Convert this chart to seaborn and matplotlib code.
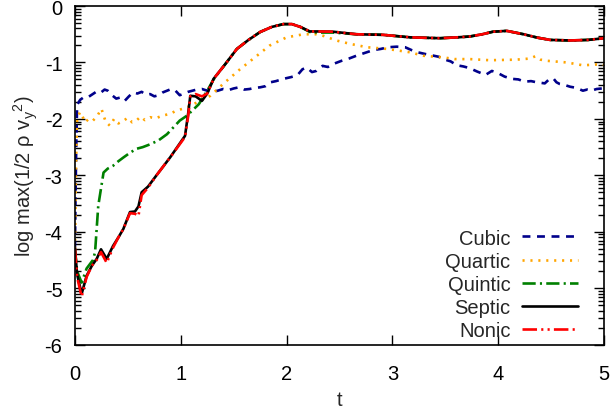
import numpy as np
import pandas as pd
import matplotlib
matplotlib.use("Agg")
import matplotlib.pyplot as plt
import seaborn as sns

# ---- data ----
t_cubic = [0, 0.005, 0.012, 0.02, 0.05, 0.08, 0.12, 0.16, 0.2, 0.24, 0.28, 0.31, 0.35, 0.39,
           0.43, 0.47, 0.51, 0.55, 0.59, 0.63, 0.67, 0.71, 0.75, 0.79, 0.83, 0.87, 0.91, 0.95,
           0.99, 1.03, 1.07, 1.11, 1.15, 1.2, 1.25, 1.3, 1.35, 1.4, 1.45, 1.5, 1.55, 1.6, 1.65,
           1.7, 1.75, 1.8, 1.85, 1.9, 1.97, 2.04, 2.1, 2.15, 2.19, 2.24, 2.28, 2.34, 2.39, 2.45,
           2.52, 2.59, 2.66, 2.74, 2.82, 2.89, 2.96, 3.04, 3.12, 3.18, 3.24, 3.31, 3.39, 3.44,
           3.48, 3.55, 3.61, 3.67, 3.73, 3.8, 3.88, 3.94, 4.0, 4.06, 4.13, 4.19, 4.25, 4.31,
           4.36, 4.4, 4.44, 4.48, 4.52, 4.55, 4.58, 4.63, 4.68, 4.74, 4.8, 4.84, 4.88, 4.93,
           4.98, 5.0]
y_cubic = [-4.3, -3.4, -2.5, -1.75, -1.66, -1.62, -1.62, -1.57, -1.52, -1.54, -1.48, -1.5, -1.58,
           -1.64, -1.62, -1.68, -1.6, -1.53, -1.55, -1.52, -1.57, -1.56, -1.6, -1.58, -1.53,
           -1.5, -1.47, -1.5, -1.58, -1.55, -1.52, -1.5, -1.48, -1.47, -1.5, -1.52, -1.5, -1.47,
           -1.49, -1.46, -1.44, -1.48, -1.47, -1.45, -1.44, -1.42, -1.35, -1.33, -1.29, -1.26,
           -1.23, -1.12, -1.09, -1.17, -1.15, -1.06, -1.08, -1.02, -0.97, -0.93, -0.88, -0.83,
           -0.78, -0.76, -0.73, -0.72, -0.73, -0.78, -0.82, -0.85, -0.88, -0.9, -0.94, -0.98,
           -1.05, -1.07, -1.1, -1.16, -1.22, -1.15, -1.19, -1.25, -1.29, -1.3, -1.34, -1.33,
           -1.35, -1.36, -1.37, -1.3, -1.28, -1.35, -1.38, -1.4, -1.43, -1.45, -1.5, -1.48,
           -1.5, -1.47, -1.46, -1.48]

t_quartic = [0, 0.005, 0.01, 0.02, 0.047, 0.07, 0.095, 0.13, 0.17, 0.21, 0.25, 0.29, 0.33,
             0.37, 0.41, 0.46, 0.5, 0.54, 0.58, 0.62, 0.66, 0.71, 0.76, 0.83, 0.9, 0.96, 1.02,
             1.09, 1.18, 1.28, 1.4, 1.56, 1.72, 1.84, 2.0, 2.16, 2.28, 2.35, 2.47, 2.6, 2.76,
             2.95, 3.17, 3.29, 3.48, 3.59, 3.73, 3.92, 4.17, 4.3, 4.35, 4.4, 4.46, 4.65, 4.8,
             4.98, 5.0]
y_quartic = [-4.3, -3.6, -2.8, -2.0, -1.88, -1.95, -2.06, -2.0, -2.03, -1.95, -1.82, -2.05,
             -2.12, -2.0, -2.08, -2.03, -1.98, -2.06, -2.03, -1.96, -2.02, -1.97, -1.99, -1.94,
             -1.91, -1.85, -1.82, -1.77, -1.68, -1.59, -1.38, -1.12, -0.88, -0.70, -0.555,
             -0.5, -0.5, -0.53, -0.61, -0.67, -0.73, -0.76, -0.82, -0.88, -0.91, -0.94, -0.94,
             -0.96, -0.95, -0.93, -0.89, -0.95, -0.97, -1.0, -1.05, -1.03, -1.04]

t_quintic = [0, 0.02, 0.063, 0.11, 0.17, 0.19, 0.22, 0.27, 0.31, 0.36, 0.41, 0.46, 0.52, 0.58,
             0.64, 0.71, 0.79, 0.87, 0.93, 0.99, 1.06, 1.17, 1.25, 1.31, 1.42, 1.53, 1.64, 1.75,
             1.86, 1.97, 2.05, 2.13, 2.22, 2.3, 2.44, 2.66, 2.91, 3.17, 3.45, 3.61, 3.73, 3.85,
             3.95, 4.08, 4.24, 4.37, 4.49, 4.68, 4.85, 5.0]
y_quintic = [-4.3, -4.7, -4.9, -4.65, -4.5, -4.36, -3.54, -2.95, -2.88, -2.83, -2.75, -2.68,
             -2.6, -2.53, -2.5, -2.45, -2.38, -2.27, -2.15, -2.03, -1.94, -1.74, -1.5, -1.3,
             -1.03, -0.76, -0.6, -0.46, -0.37, -0.32, -0.32, -0.37, -0.46, -0.47, -0.47, -0.5,
             -0.51, -0.555, -0.57, -0.555, -0.54, -0.5, -0.455, -0.44, -0.5, -0.56, -0.6,
             -0.61, -0.6, -0.57]

t_septic = [0, 0.02, 0.063, 0.11, 0.16, 0.205, 0.246, 0.30, 0.36, 0.41, 0.457, 0.52, 0.567,
            0.60, 0.63, 0.69, 0.77, 0.90, 1.04, 1.07, 1.09, 1.14, 1.2, 1.25, 1.31, 1.42, 1.53,
            1.64, 1.75, 1.86, 1.97, 2.05, 2.13, 2.22, 2.3, 2.44, 2.66, 2.91, 3.17, 3.45, 3.61,
            3.73, 3.85, 3.95, 4.08, 4.24, 4.37, 4.49, 4.68, 4.85, 5.0]
y_septic = [-4.3, -4.75, -5.1, -4.78, -4.6, -4.48, -4.31, -4.48, -4.25, -4.1, -3.95, -3.65,
            -3.64, -3.55, -3.3, -3.2, -3.0, -2.68, -2.30, -1.9, -1.59, -1.6, -1.68, -1.55,
            -1.29, -1.03, -0.76, -0.6, -0.46, -0.37, -0.32, -0.32, -0.37, -0.45, -0.45,
            -0.455, -0.5, -0.51, -0.555, -0.57, -0.555, -0.54, -0.5, -0.455, -0.44, -0.5,
            -0.56, -0.6, -0.61, -0.6, -0.57]

t_nonic = t_septic
y_nonic = [-4.3, -4.8, -5.15, -4.8, -4.6, -4.5, -4.36, -4.55, -4.28, -4.1, -3.95, -3.67,
           -3.68, -3.72, -3.35, -3.22, -3.0, -2.68, -2.32, -1.95, -1.6, -1.56, -1.6, -1.55,
           -1.29, -1.03, -0.76, -0.6, -0.46, -0.37, -0.32, -0.32, -0.37, -0.45, -0.45,
           -0.455, -0.5, -0.51, -0.555, -0.57, -0.555, -0.54, -0.5, -0.455, -0.44, -0.5,
           -0.56, -0.6, -0.61, -0.6, -0.57]

labels = ["Cubic", "Quartic", "Quintic", "Septic", "Nonic"]
colors = ["#00008b", "#ffa500", "#008000", "#000000", "#ff0000"]
styles = [(0, (3, 2.5)), (0, (0.8, 2.2)), (0, (5, 1.6, 0.8, 1.6)), "-",
          (0, (5.5, 1.6, 0.8, 1.6, 0.8, 1.6))]

sns.set_style("ticks")
plt.rcParams["font.family"] = ["Liberation Sans", "DejaVu Sans"]
plt.rcParams["mathtext.default"] = "regular"
plt.rcParams["axes.unicode_minus"] = False

fs = 14.5
fig = plt.figure(figsize=(6.12, 4.14), dpi=100)
ax = fig.add_axes([0.1225, 0.165, 0.8645, 0.818])

series = [(t_cubic, y_cubic), (t_quartic, y_quartic), (t_quintic, y_quintic),
          (t_septic, y_septic), (t_nonic, y_nonic)]
for (tt, yy), lab, c, ls in zip(series, labels, colors, styles):
    df = pd.DataFrame({"t": tt, "v": yy})
    sns.lineplot(data=df, x="t", y="v", ax=ax, color=c, linestyle=ls, linewidth=1.9,
                 label=lab, estimator=None)

ax.set_xlim(0, 5)
ax.set_ylim(-6, 0)
ax.set_xticks(range(0, 6))
ax.set_yticks(range(-6, 1))
minor = [k + np.log10(m) for k in range(-6, 0) for m in range(2, 10)]
ax.set_yticks(minor, minor=True)
ax.tick_params(axis="both", which="both", direction="in", top=True, right=True,
               labelsize=fs, colors="black", width=1.0)
ax.tick_params(axis="x", which="major", length=7, pad=14)
ax.tick_params(axis="y", which="major", length=7, pad=9)
ax.tick_params(axis="y", which="minor", length=4)
ax.tick_params(axis="x", which="minor", length=0)
for s in ax.spines.values():
    s.set_linewidth(1.2)
    s.set_color("black")

ax.set_xlabel("t", fontsize=fs, labelpad=5)
ax.set_ylabel(r"log max(1/2 ρ v$_y$$^2$)", fontsize=fs, labelpad=3)

ax.legend(loc="lower right", markerfirst=False, frameon=False, fontsize=fs,
          handlelength=2.75, handletextpad=0.6, labelspacing=0.2, borderpad=0.1,
          borderaxespad=0.15, bbox_to_anchor=(0.96, 0.0))

fig.savefig("out.png", dpi=100)
